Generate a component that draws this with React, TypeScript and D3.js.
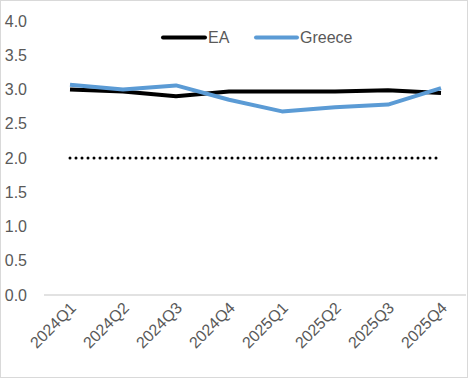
import React from "react";
import * as d3 from "d3";

const categories = ["2024Q1", "2024Q2", "2024Q3", "2024Q4", "2025Q1", "2025Q2", "2025Q3", "2025Q4"];
const eaValues = [3.0, 2.97, 2.9, 2.97, 2.97, 2.97, 2.99, 2.95];
const greeceValues = [3.07, 3.0, 3.06, 2.85, 2.68, 2.74, 2.78, 3.02];
const targetValues = [2.0, 2.0, 2.0, 2.0, 2.0, 2.0, 2.0, 2.0];
const yTicks = [0, 0.5, 1, 1.5, 2, 2.5, 3, 3.5, 4];
const seriesNames = ["EA", "Greece"];

const W = 470;
const H = 380;
const FONT = "'Liberation Sans', Arial, sans-serif";
const TEXT = "#595959";

export default function App() {
  const x = d3.scalePoint<string>().domain(categories).range([70, 441]);
  const y = d3.scaleLinear().domain([0, 4]).range([295, 21]);
  const line = d3
    .line<number>()
    .x((_, i) => x(categories[i]) as number)
    .y((d) => y(d));

  return (
    <svg
      width={W}
      height={H}
      style={{ position: "absolute", left: 0, top: 0, background: "#fff" }}
      fontFamily={FONT}
    >
      <rect x={0.5} y={0.5} width={467} height={377} fill="#fff" stroke="#d9d9d9" />
      <line x1={44} x2={466} y1={y(0)} y2={y(0)} stroke="#d9d9d9" strokeWidth={1.5} />
      {yTicks.map((t) => (
        <text key={t} x={27} y={y(t)} dy="0.35em" textAnchor="end" fontSize={16} fill={TEXT}>
          {t.toFixed(1)}
        </text>
      ))}
      {categories.map((c) => (
        <text
          key={c}
          transform={`translate(${(x(c) as number) + 7},${309}) rotate(-45)`}
          textAnchor="end"
          fontSize={16}
          fill={TEXT}
        >
          {c}
        </text>
      ))}
      <path
        d={line(targetValues) || ""}
        fill="none"
        stroke="#000"
        strokeWidth={3}
        strokeDasharray="0 6"
        strokeLinecap="round"
      />
      <path d={line(eaValues) || ""} fill="none" stroke="#000" strokeWidth={4} strokeLinejoin="round" />
      <path d={line(greeceValues) || ""} fill="none" stroke="#5b9bd5" strokeWidth={4} strokeLinejoin="round" />
      <g>
        <line x1={163} x2={205} y1={37.5} y2={37.5} stroke="#000" strokeWidth={4} strokeLinecap="round" />
        <text x={208} y={37.5} dy="0.35em" fontSize={16} fill={TEXT}>
          {seriesNames[0]}
        </text>
        <line x1={256} x2={297} y1={37.5} y2={37.5} stroke="#5b9bd5" strokeWidth={4} strokeLinecap="round" />
        <text x={300} y={37.5} dy="0.35em" fontSize={16} fill={TEXT}>
          {seriesNames[1]}
        </text>
      </g>
    </svg>
  );
}
